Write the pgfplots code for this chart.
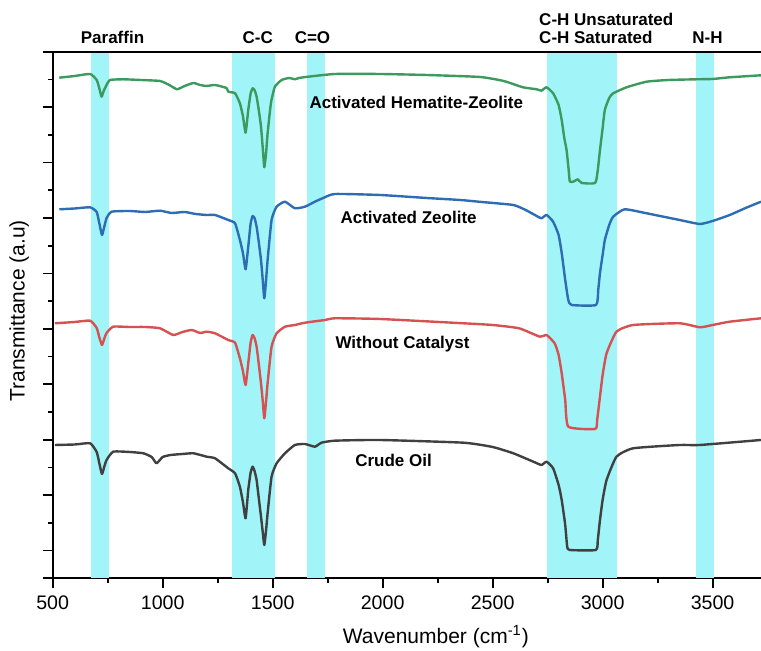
\documentclass[border=0pt]{standalone}
\usepackage{fontspec}
\setmainfont{Liberation Sans}
\usepackage{pgfplots}
\pgfplotsset{compat=1.18}
\definecolor{band}{RGB}{161,244,247}
\definecolor{cgreen}{RGB}{60,154,95}
\definecolor{cblue}{RGB}{46,109,180}
\definecolor{cred}{RGB}{214,82,82}
\definecolor{cgray}{RGB}{64,64,64}
\begin{document}
\begin{tikzpicture}
\useasboundingbox (-26.35pt,-36.35pt) rectangle (354.15pt,289.15pt);
\begin{axis}[
  at={(0,0)}, anchor=south west,
  scale only axis, width=354.15pt, height=263.3pt,
  xmin=500, xmax=3720, ymin=0, ymax=526.6,
  axis x line*=bottom, axis y line*=left,
  axis line style={line width=1pt},
  clip=false,
  tick align=outside,
  major tick length=5pt, minor tick length=2.4pt,
  every tick/.style={black, line width=0.9pt},
  xtick={500,1000,...,3500},
  minor xtick={750,1250,1750,2250,2750,3250},
  ytick={0,27.72,83.15,138.58,194.01,249.44,304.88,360.31,415.74,471.17,526.6},
  minor ytick={55.43,110.86,166.29,221.72,277.15,332.58,388.02,443.45,498.88},
  yticklabels={},
  /pgf/number format/assume math mode=true,
  /pgf/number format/1000 sep={},
  tick label style={font=\fontsize{9.8}{11}\selectfont},
  xlabel={Wavenumber (cm\textsuperscript{-1})},
  ylabel={Transmittance (a.u)},
  label style={font=\fontsize{10.5}{12}\selectfont},
  xlabel style={at={(axis description cs:0.541,0)}, anchor=base, yshift=-32.5pt},
  ylabel style={at={(axis description cs:-0.0395,0.508)}, anchor=base},
  spec/.style={line width=1.2pt, line join=round, smooth, tension=0.3},
]
% bands
\addplot[fill=band, draw=none, forget plot] coordinates {(675,0) (757,0) (757,526.6) (675,526.6)} -- cycle;
\addplot[fill=band, draw=none, forget plot] coordinates {(1316,0) (1512,0) (1512,526.6) (1316,526.6)} -- cycle;
\addplot[fill=band, draw=none, forget plot] coordinates {(1656,0) (1738,0) (1738,526.6) (1656,526.6)} -- cycle;
\addplot[fill=band, draw=none, forget plot] coordinates {(2745,0) (3065,0) (3065,526.6) (2745,526.6)} -- cycle;
\addplot[fill=band, draw=none, forget plot] coordinates {(3424,0) (3506,0) (3506,526.6) (3424,526.6)} -- cycle;
% Activated Hematite-Zeolite
\addplot[cgreen, spec] coordinates {
(530,500.6) (600,502.3) (670,504.3) (700,498.3) (712,490) (722,481.6) (733,488) (745,493.3) (760,498.3)
(820,499) (900,498.3) (988,497.3) (1030,493.3) (1065,489) (1100,492.3) (1140,495.3) (1170,493.3)
(1200,492.3) (1238,493.3) (1290,490.3) (1298,486.6) (1329,485) (1351,475) (1365,462) (1377,445.6)
(1389,468.3) (1400,485) (1409,490) (1418,488) (1427,481.6) (1437,468) (1447,451.6) (1455,430) (1462,411)
(1470,425) (1477,445) (1492,475) (1510,491.6) (1541,498.3) (1575,500.3) (1601,499) (1620,500.3)
(1662,501.6) (1783,504.3) (1988,504.3) (2200,503.3) (2443,501.3) (2550,497.3) (2638,491) (2700,489)
(2722,487.6) (2745,491) (2775,485) (2800,473.3) (2814,458.3) (2826,440) (2836,428.3) (2845,410) (2851,396.6)
(2870,397) (2887,399) (2905,395.3) (2966,395.3) (2978,408.3) (2988,428.3) (3000,450) (3010,468.3)
(3030,480.3) (3048,485) (3109,491) (3200,496.6) (3300,498.3) (3427,499) (3500,499.3) (3578,501) (3720,503)
};
% Activated Zeolite
\addplot[cblue, spec] coordinates {
(530,369) (600,369.8) (670,371) (700,366.3) (712,355) (724,343.3) (735,352) (745,360.3) (768,366.6)
(850,367.3) (920,366.3) (988,367.6) (1040,365.3) (1100,366.3) (1150,364.3) (1200,363.3) (1238,363.3)
(1298,358.3) (1329,355) (1351,338.3) (1365,325) (1377,309) (1389,331.6) (1400,355) (1409,362.3)
(1418,360) (1427,351.6) (1437,336) (1447,318.3) (1455,298) (1462,280) (1470,298) (1477,318.3)
(1495,358.3) (1518,371.6) (1556,376.6) (1601,370) (1647,371.6) (1692,376.6) (1730,380.3) (1783,384.3)
(1988,383.3) (2200,380.3) (2352,378.3) (2450,376.3) (2594,373.3) (2650,368.3) (2700,362.3) (2722,360)
(2745,363.3) (2775,356.6) (2800,343.3) (2814,325.3) (2830,298.3) (2844,278.3) (2859,273.3) (2970,273.3)
(2980,288.3) (2988,305.3) (3000,323.3) (3010,338.3) (3030,353.3) (3048,361.6) (3100,369) (3200,365)
(3350,358.3) (3442,354.3) (3500,357.3) (3578,363.3) (3650,370.3) (3720,376.6)
};
% Without Catalyst
\addplot[cred, spec] coordinates {
(510,255) (600,256.3) (670,257.6) (700,250.3) (712,241) (724,233.3) (735,240) (745,245.3) (775,251.6)
(850,251.3) (920,251.3) (988,250) (1048,243.3) (1090,246.3) (1132,248.3) (1170,245.3) (1200,246.6)
(1238,245) (1298,238.3) (1329,235.6) (1351,220) (1365,207) (1377,193.3) (1389,215) (1400,236)
(1409,243.3) (1418,240) (1427,231.6) (1437,214) (1447,195) (1455,177) (1462,160) (1470,177) (1477,195)
(1495,231.6) (1518,245) (1556,251.6) (1601,253.3) (1647,255.6) (1738,258.3) (1783,260) (1988,259.3)
(2367,255) (2500,253.3) (2620,250) (2715,241.6) (2745,243.3) (2782,235) (2800,223.3) (2814,205)
(2830,178.3) (2844,151.6) (2966,149.3) (2975,158.3) (2988,181.6) (3000,203.3) (3018,225) (3063,246.6)
(3139,253.3) (3350,255) (3442,251) (3500,253.3) (3578,256.6) (3720,260)
};
% Crude Oil
\addplot[cgray, spec] coordinates {
(510,133.3) (600,133.8) (670,135) (700,126.3) (712,115) (724,104.3) (735,112) (745,118.3) (775,126.6)
(850,126.3) (912,125) (950,121.3) (972,115) (1000,121.3) (1036,123.3) (1090,124.3) (1140,125)
(1200,121.6) (1238,120) (1298,110) (1329,105) (1351,91.6) (1365,76) (1377,60) (1389,88.3) (1400,106)
(1409,111.6) (1418,107) (1427,98.3) (1437,80) (1447,61.6) (1455,46) (1462,33.3) (1470,48) (1477,65)
(1495,101.6) (1518,115) (1556,125) (1601,133.3) (1647,134.3) (1692,131.6) (1722,135.6) (1783,137.6)
(1988,138.3) (2367,135.6) (2500,131.3) (2594,125) (2685,116.6) (2722,113.3) (2745,116.6) (2775,110)
(2800,93.3) (2814,78.3) (2830,53.3) (2839,31.6) (2851,28.3) (2969,28.3) (2978,38.3) (2988,58.3)
(3000,78.3) (3018,98.3) (3063,121.6) (3139,130) (3350,133.3) (3442,133.3) (3720,138.3)
};
% top frame line
\draw[line width=1pt] (rel axis cs:0,1) -- (rel axis cs:1,1);
% band labels
\begin{scope}[every node/.style={font=\fontsize{8.5}{8.5}\selectfont\bfseries, inner sep=0pt}]
\node[anchor=base] at (axis cs:772,535) {Paraffin};
\node[anchor=base] at (axis cs:1432,535) {C-C};
\node[anchor=base] at (axis cs:1681,535) {C=O};
\node[anchor=base west] at (axis cs:2710,552.3) {C-H Unsaturated};
\node[anchor=base west] at (axis cs:2710,535) {C-H Saturated};
\node[anchor=base] at (axis cs:3477,535) {N-H};
\node[anchor=base west] at (axis cs:1666,470) {Activated Hematite-Zeolite};
\node[anchor=base west] at (axis cs:1807,354.3) {Activated Zeolite};
\node[anchor=base west] at (axis cs:1784,230) {Without Catalyst};
\node[anchor=base west] at (axis cs:1874,111.6) {Crude Oil};
\end{scope}
\end{axis}
\end{tikzpicture}
\end{document}
